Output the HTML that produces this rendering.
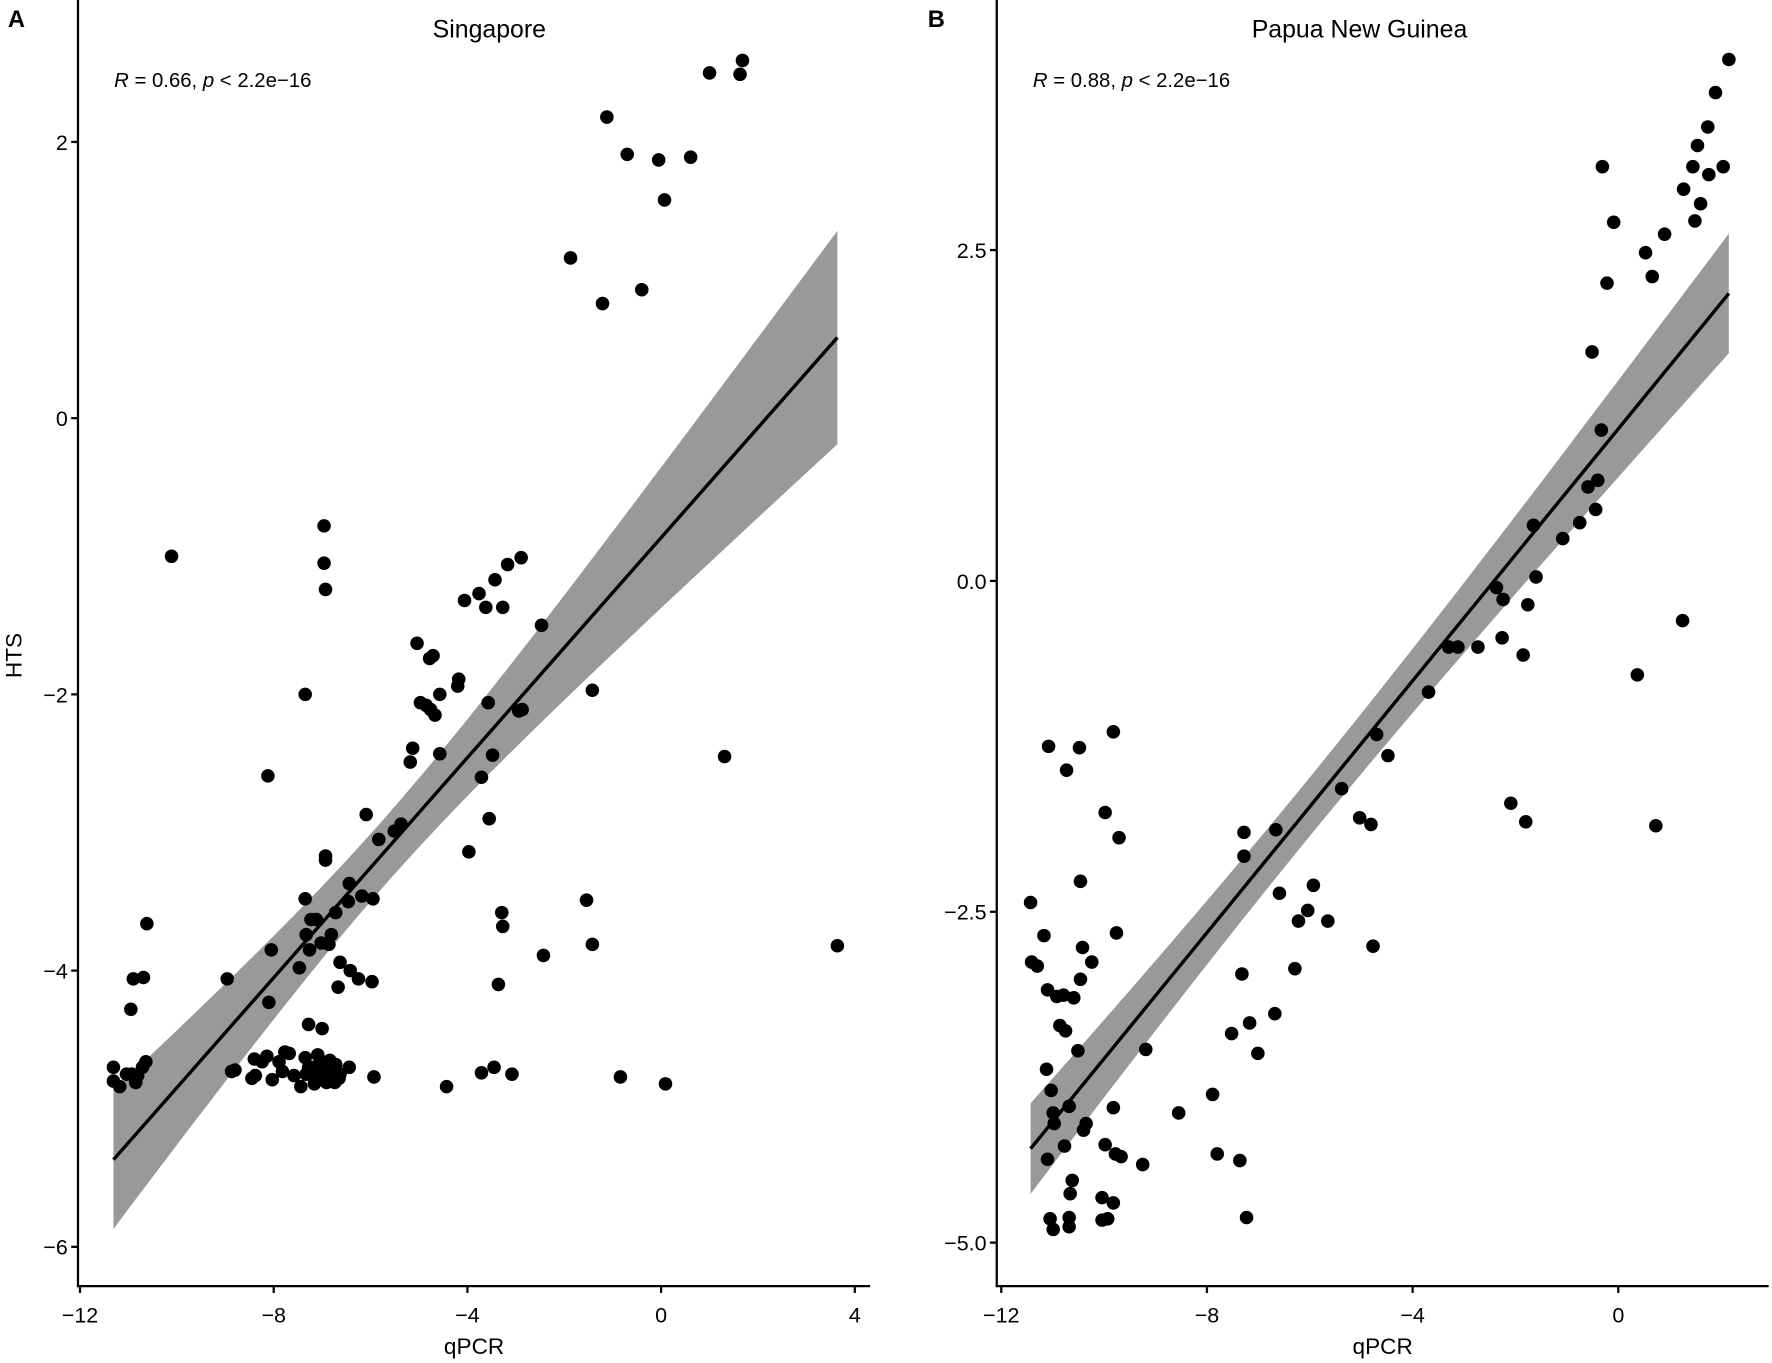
<!DOCTYPE html>
<html><head><meta charset="utf-8"><style>
html,body{margin:0;padding:0;background:#fff;}
svg{display:block;}
text{font-family:"Liberation Sans",sans-serif;fill:#000;}
</style></head><body>
<svg id="chart" width="1772" height="1363" viewBox="0 0 1568 1206" preserveAspectRatio="none" xmlns="http://www.w3.org/2000/svg">
<g id="pa"></g>
<g id="pb"></g>
</svg>
<script>
const sgX=[1.68,1.00,1.63,-1.12,-0.70,-0.05,0.61,0.07,-1.87,-1.21,-0.40,
-6.96,-6.96,-6.93,-10.11,-2.47,-2.89,-3.17,-3.43,-3.76,-4.06,-3.62,-3.27,-7.35,-5.04,-4.78,-4.71,-4.18,-4.20,-4.97,-4.85,-4.76,-4.67,-4.57,-3.57,-2.94,-2.87,-1.42,-8.12,-5.13,-5.18,-4.57,-3.48,-3.71,-6.09,-5.37,-5.51,-5.83,-3.55,-3.97,-6.93,-6.93,-7.35,-7.23,-7.12,-6.72,-7.02,-6.86,-6.44,-6.18,-6.46,-5.95,-7.33,-7.26,-7.47,-6.81,-6.63,-6.67,-6.42,-6.25,-5.97,-8.05,-8.10,-10.62,-10.90,-10.69,-10.95,-8.96,-7.28,-7.00,-3.29,-3.27,-1.54,-1.42,-2.43,-3.36,3.64,1.31,
-11.31,-11.31,-11.18,-11.04,-10.93,-10.81,-10.71,-10.64,-10.85,-8.87,-8.80,-8.40,-8.24,-8.45,-8.14,-7.77,-7.68,-7.89,-7.82,-8.03,-7.58,-7.35,-7.28,-7.33,-7.19,-7.12,-7.00,-6.98,-6.93,-6.84,-6.91,-6.72,-6.63,-6.44,-7.44,-7.16,-6.74,-6.65,-5.93,-4.43,-3.71,-3.45,-3.08,-0.84,0.09,-8.38,-6.86,-7.09];
const sgY=[2.59,2.50,2.49,2.18,1.91,1.87,1.89,1.58,1.16,0.83,0.93,
-0.78,-1.05,-1.24,-1.00,-1.50,-1.01,-1.06,-1.17,-1.27,-1.32,-1.37,-1.37,-2.00,-1.63,-1.74,-1.72,-1.89,-1.94,-2.06,-2.08,-2.11,-2.15,-2.00,-2.06,-2.12,-2.11,-1.97,-2.59,-2.39,-2.49,-2.43,-2.44,-2.60,-2.87,-2.94,-2.99,-3.05,-2.90,-3.14,-3.17,-3.20,-3.48,-3.63,-3.63,-3.58,-3.80,-3.81,-3.37,-3.46,-3.50,-3.48,-3.74,-3.85,-3.98,-3.74,-3.94,-4.12,-4.00,-4.06,-4.08,-3.85,-4.23,-3.66,-4.06,-4.05,-4.28,-4.06,-4.39,-4.42,-3.58,-3.68,-3.49,-3.81,-3.89,-4.10,-3.82,-2.45,
-4.70,-4.80,-4.84,-4.75,-4.75,-4.76,-4.70,-4.66,-4.81,-4.73,-4.72,-4.64,-4.66,-4.78,-4.62,-4.59,-4.60,-4.66,-4.73,-4.79,-4.76,-4.63,-4.70,-4.75,-4.70,-4.75,-4.66,-4.71,-4.78,-4.65,-4.81,-4.68,-4.75,-4.70,-4.84,-4.82,-4.81,-4.78,-4.77,-4.84,-4.74,-4.70,-4.75,-4.77,-4.82,-4.76,-4.75,-4.61];
const pngX=[2.15,1.89,1.74,1.54,1.45,1.76,2.04,1.27,-0.31,1.60,1.49,-0.09,0.90,0.53,0.66,-0.22,-0.51,-0.33,-0.40,-0.59,-0.44,-0.75,-1.08,-1.65,-1.60,-2.37,-2.24,-1.76,-2.26,-1.85,-3.30,-3.12,-2.73,-3.69,-4.70,-4.48,-5.38,-5.03,-4.81,-2.09,-1.80,0.37,1.25,0.73,
-6.66,-7.28,-7.28,-5.93,-6.59,-6.04,-6.22,-5.65,-4.77,-6.29,-7.32,-6.68,-7.17,-7.52,-7.01,-7.89,-8.55,-9.19,-9.25,-7.80,-7.36,-7.23,-9.82,-10.48,-9.98,-9.71,-10.46,-9.76,-10.42,-10.24,-10.46,-10.59,-10.79,-10.86,-10.75,-10.51,-10.68,-9.82,-10.40,-9.98,-9.78,-9.67,-10.62,-10.66,-10.04,-9.82,-9.93,-10.04,-11.43,-11.41,-11.30,-11.17,-11.10,-10.92,-11.12,-11.03,-10.99,-10.97,-11.10,-10.77,-11.05,-10.99,-10.68,-10.68,-11.08,-10.73,-10.35];
const pngY=[3.94,3.69,3.43,3.29,3.13,3.07,3.13,2.96,3.13,2.85,2.72,2.71,2.62,2.48,2.30,2.25,1.73,1.14,0.76,0.71,0.54,0.44,0.32,0.42,0.03,-0.05,-0.14,-0.18,-0.43,-0.56,-0.50,-0.50,-0.50,-0.84,-1.16,-1.32,-1.57,-1.79,-1.84,-1.68,-1.82,-0.71,-0.30,-1.85,
-1.88,-1.90,-2.08,-2.30,-2.36,-2.49,-2.57,-2.57,-2.76,-2.93,-2.97,-3.27,-3.34,-3.42,-3.57,-3.88,-4.02,-3.54,-4.41,-4.33,-4.38,-4.81,-1.14,-1.26,-1.75,-1.94,-2.27,-2.66,-2.77,-2.88,-3.01,-3.15,-3.13,-3.36,-3.40,-3.55,-3.97,-3.98,-4.15,-4.26,-4.33,-4.35,-4.53,-4.63,-4.66,-4.70,-4.82,-4.83,-2.43,-2.88,-2.91,-2.68,-3.09,-3.14,-3.69,-3.85,-4.02,-4.10,-4.37,-4.27,-4.82,-4.90,-4.88,-4.81,-1.25,-1.43,-4.10];
const sgXTicks=[-12,-8,-4,0,4];
const sgYTicks=[2,0,-2,-4,-6];
const sgYLabels=["2","0","\u22122","\u22124","\u22126"];
const pngXTicks=[-12,-8,-4,0];
const pngYTicks=[2.5,0,-2.5,-5];
const pngYLabels=["2.5","0.0","\u22122.5","\u22125.0"];
const xLabelsA=["\u221212","\u22128","\u22124","0","4"];
const xLabelsB=["\u221212","\u22128","\u22124","0"];

const NS="http://www.w3.org/2000/svg";
function mk(tag,attrs,parent){const e=document.createElementNS(NS,tag);for(const k in attrs)e.setAttribute(k,attrs[k]);parent.appendChild(e);return e;}

function panel(g,cfg){
  const {xs,ys,sx,sy,axX,axEnd,xt,xl,yt,yl,title,titleX,letter,letterX,ann}=cfg;
  // regression
  const n=xs.length;let mx=0,my=0;for(let i=0;i<n;i++){mx+=xs[i];my+=ys[i];}mx/=n;my/=n;
  let sxx=0,sxy=0;for(let i=0;i<n;i++){sxx+=(xs[i]-mx)**2;sxy+=(xs[i]-mx)*(ys[i]-my);}
  const b=sxy/sxx,a=my-b*mx;let sse=0;for(let i=0;i<n;i++){sse+=(ys[i]-a-b*xs[i])**2;}
  const s=Math.sqrt(sse/(n-2)),t=1.97;
  const x0=Math.min(...xs),x1=Math.max(...xs);
  let up=[],lo=[];
  for(let k=0;k<=60;k++){const x=x0+(x1-x0)*k/60;const yh=a+b*x;const se=s*Math.sqrt(1/n+(x-mx)**2/sxx);
    up.push(sx(x).toFixed(1)+","+sy(yh+t*se).toFixed(1));lo.unshift(sx(x).toFixed(1)+","+sy(yh-t*se).toFixed(1));}
  const band=mk('polygon',{points:up.concat(lo).join(' '),fill:'#999999'},g);
  
  
  const line=mk('line',{x1:sx(x0),y1:sy(a+b*x0),x2:sx(x1),y2:sy(a+b*x1),stroke:'#000','stroke-width':3},g);
  
  
  for(let i=0;i<n;i++){
    const c=mk('circle',{cx:sx(xs[i]),cy:sy(ys[i]),r:6,fill:'#000'},g);
    
    
  }
  // axes
  const ya=mk('line',{x1:axX,y1:0,x2:axX,y2:1138,stroke:'#000','stroke-width':2},g);
  
  
  const xa=mk('line',{x1:axX-1,y1:1138,x2:axEnd,y2:1138,stroke:'#000','stroke-width':2},g);
  
  
  xt.forEach((v,i)=>{
    mk('line',{x1:sx(v),y1:1138,x2:sx(v),y2:1144,stroke:'#000','stroke-width':2},g);
    const tx=mk('text',{x:sx(v),y:1170,'text-anchor':'middle','font-size':19,fill:'#222'},g);
    tx.textContent=xl[i];
    
    
  });
  yt.forEach((v,i)=>{
    mk('line',{x1:axX-6,y1:sy(v),x2:axX,y2:sy(v),stroke:'#000','stroke-width':2},g);
    const tx=mk('text',{x:axX-9,y:sy(v)+7,'text-anchor':'end','font-size':19,fill:'#222'},g);
    tx.textContent=yl[i];
    
    
  });
  const tt=mk('text',{x:titleX,y:33,'text-anchor':'middle','font-size':22},g);
  tt.textContent=title;
  
  
  const lt=mk('text',{x:letterX,y:24,'font-size':21,'font-weight':'bold'},g);
  lt.textContent=letter;
  
  
  const xt2=mk('text',{x:(axX+axEnd)/2,y:1198,'text-anchor':'middle','font-size':20,fill:'#222'},g);
  xt2.textContent='qPCR';
  
  
  const an=mk('text',{x:axX+32,y:77,'font-size':18},g);
  an.innerHTML='<tspan font-style="italic">R</tspan> = '+ann+', <tspan font-style="italic">p</tspan> &lt; 2.2e\u221216';
  
  
}
panel(document.getElementById('pa'),{xs:sgX,ys:sgY,sx:v=>585+v*42.85,sy:v=>370-v*122.2,axX:69,axEnd:770,
  xt:sgXTicks,xl:xLabelsA,yt:sgYTicks,yl:sgYLabels,title:'Singapore',titleX:433,letter:'A',letterX:7,ann:'0.66'});
panel(document.getElementById('pb'),{xs:pngX,ys:pngY,sx:v=>1432+v*45.5,sy:v=>514-v*117.1,axX:882,axEnd:1565,
  xt:pngXTicks,xl:xLabelsB,yt:pngYTicks,yl:pngYLabels,title:'Papua New Guinea',titleX:1203,letter:'B',letterX:821,ann:'0.88'});
const hts=mk('text',{x:0,y:0,'text-anchor':'middle','font-size':20,fill:'#222',transform:'translate(19,580) rotate(-90)'},document.getElementById('chart'));
hts.textContent='HTS';


</script>
</body></html>
